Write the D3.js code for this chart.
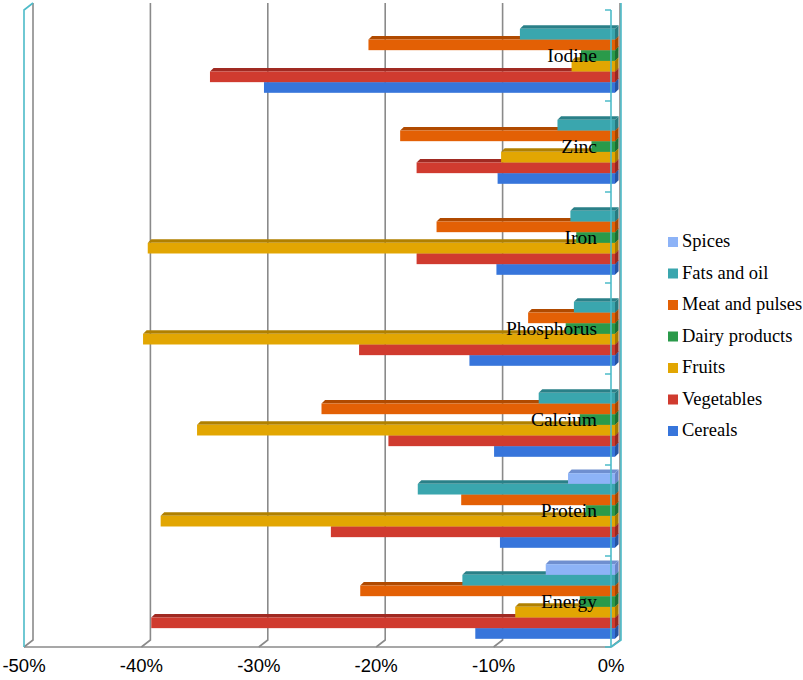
<!DOCTYPE html>
<html>
<head>
<meta charset="utf-8">
<script src="https://cdn.jsdelivr.net/npm/d3@7"></script>
<style>
  body { margin: 0; background: #fff; }
  svg { display: block; }
</style>
</head>
<body>
<div id="chart"></div>
<script>
// Categories top to bottom, values in % change
const categories = ["Iodine", "Zinc", "Iron", "Phosphorus", "Calcium", "Protein", "Energy"];
const seriesNames = ["Spices", "Fats and oil", "Meat and pulses", "Dairy products", "Fruits", "Vegetables", "Cereals"];

const spices  = [0, 0, 0, 0, 0, -4.0, -5.9];
const fats    = [-8.1, -4.9, -3.8, -3.5, -6.5, -16.8, -13.0];
const meat    = [-21.0, -18.3, -15.2, -7.4, -25.0, -13.1, -21.7];
const dairy   = [-2.9, -2.0, -3.3, -4.2, -3.0, -2.5, -3.0];
const fruits  = [-3.7, -9.7, -39.8, -40.2, -35.6, -38.7, -8.5];
const veg     = [-34.5, -16.9, -16.9, -21.8, -19.3, -24.2, -39.5];
const cereals = [-29.9, -10.0, -10.1, -12.4, -10.3, -9.8, -11.9];

const tickValues = [-50, -40, -30, -20, -10, 0];

const seriesValues = [spices, fats, meat, dairy, fruits, veg, cereals];

// front / top / side colours per series
const colors = {
  "Spices":          ["#8DB3F7", "#6F8FD0", "#6A86C8"],
  "Fats and oil":    ["#3AA6AE", "#2A8088", "#277A80"],
  "Meat and pulses": ["#E36005", "#B04A00", "#A84600"],
  "Dairy products":  ["#2A9A4A", "#1E7436", "#1C6E33"],
  "Fruits":          ["#E2A602", "#B08000", "#A87A00"],
  "Vegetables":      ["#D03B2F", "#A02A22", "#982820"],
  "Cereals":         ["#3775DB", "#2858AA", "#2553A2"]
};

const W = 803, H = 680;
const svg = d3.select("#chart").append("svg")
  .attr("width", W).attr("height", H);

// front plane scale, back wall offset, bar depth offset
const x = d3.scaleLinear().domain([-50, 0]).range([24, 611]);
const xb = d3.scaleLinear().domain([-50, 0]).range([28, 615]);
const wallDx = 9, wallDy = 7;
const d = 3.6;
const yTop = 10, yBottom = 647;

const y0 = d3.scaleBand().domain(categories).range([yTop, yBottom])
  .paddingInner(0.18).paddingOuter(0.09);
const y1 = d3.scaleBand().domain(seriesNames).range([0, y0.bandwidth()]);

// back wall gridlines + floor
const grid = svg.append("g");
tickValues.forEach(v => {
  grid.append("path")
    .attr("d", `M${x(v) + wallDx},${yTop - wallDy} L${x(v) + wallDx},${yBottom - wallDy} L${x(v)},${yBottom}`)
    .attr("fill", "none").attr("stroke", "#8a8a8a").attr("stroke-width", 1.6);
});
grid.append("line")
  .attr("x1", x(-50)).attr("x2", x(0)).attr("y1", yBottom).attr("y2", yBottom)
  .attr("stroke", "#8a8a8a").attr("stroke-width", 1.6);

// left wall edge
svg.append("path")
  .attr("d", `M${x(-50)},${yBottom} L${x(-50)},${yTop} L${x(-50) + wallDx},${yTop - wallDy}`)
  .attr("fill", "none").attr("stroke", "#4DBBC8").attr("stroke-width", 1.6);

// bars
const rows = [];
categories.forEach((c, i) => {
  seriesNames.forEach((s, j) => {
    rows.push({ cat: c, series: s, value: seriesValues[j][i] });
  });
});

const bars = svg.append("g");
categories.forEach(c => {
  const g = bars.append("g");
  // draw bottom series first so upper bars cover the top faces below them
  const data = rows.filter(r => r.cat === c && r.value !== 0).reverse();
  data.forEach(r => {
    const yy = y0(c) + y1(r.series);
    const h = y1.bandwidth();
    const x0 = xb(r.value), x1 = xb(0);
    const col = colors[r.series];
    g.append("polygon")
      .attr("points", `${x0},${yy} ${x0 + d},${yy - d} ${x1 + d},${yy - d} ${x1},${yy}`)
      .attr("fill", col[1]);
    g.append("polygon")
      .attr("points", `${x1},${yy} ${x1 + d},${yy - d} ${x1 + d},${yy + h - d} ${x1},${yy + h}`)
      .attr("fill", col[2]);
    g.append("rect")
      .attr("x", x0).attr("y", yy)
      .attr("width", x1 - x0).attr("height", h)
      .attr("fill", col[0]);
  });
});

// right axis (front + back edge)
svg.append("line")
  .attr("x1", x(0)).attr("x2", x(0)).attr("y1", yTop).attr("y2", yBottom)
  .attr("stroke", "#4DBBC8").attr("stroke-width", 1.6);
svg.append("path")
  .attr("d", `M${x(0) + wallDx + 1},${yTop - wallDy} L${x(0) + wallDx + 1},${yBottom - wallDy} L${x(0)},${yBottom}`)
  .attr("fill", "none").attr("stroke", "#4DBBC8").attr("stroke-width", 1.6);

const bounds = categories.map(c => y0(c) - y0.step() * 0.09).concat([yBottom]);
svg.append("g").selectAll("line")
  .data(bounds)
  .enter().append("line")
  .attr("x1", x(0) - 6).attr("x2", x(0))
  .attr("y1", b => b).attr("y2", b => b)
  .attr("stroke", "#4DBBC8").attr("stroke-width", 1.5);

// category labels
svg.append("g").selectAll("text")
  .data(categories)
  .enter().append("text")
  .attr("x", 597)
  .attr("y", c => y0(c) + y0.bandwidth() / 2 + 2)
  .attr("text-anchor", "end")
  .attr("dominant-baseline", "middle")
  .style("font-family", "'Liberation Serif', 'Times New Roman', serif")
  .style("font-size", "19.5px")
  .attr("fill", "#000")
  .text(c => c);

// x tick labels
svg.append("g").selectAll("text")
  .data(tickValues)
  .enter().append("text")
  .attr("x", v => x(v))
  .attr("y", 672)
  .attr("text-anchor", "middle")
  .style("font-family", "'Liberation Sans', Arial, sans-serif")
  .style("font-size", "18.5px")
  .attr("fill", "#000")
  .text(v => `${v}%`);

// legend
const legend = svg.append("g").attr("transform", "translate(668,242)");
seriesNames.forEach((s, i) => {
  const item = legend.append("g").attr("transform", `translate(0,${i * 31.5})`);
  item.append("rect")
    .attr("x", 0).attr("y", -5).attr("width", 10).attr("height", 10)
    .attr("fill", colors[s][0]);
  item.append("text")
    .attr("x", 14).attr("y", 1)
    .attr("dominant-baseline", "middle")
    .style("font-family", "'Liberation Serif', 'Times New Roman', serif")
    .style("font-size", "18.5px")
    .attr("fill", "#000")
    .text(s);
});
</script>
</body>
</html>
